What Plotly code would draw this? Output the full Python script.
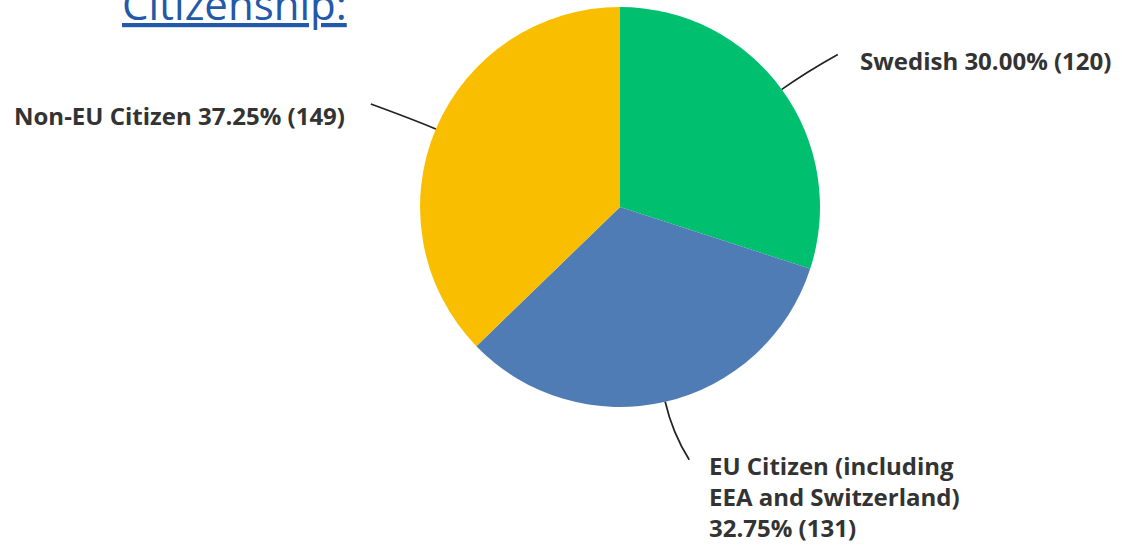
import math
import plotly.graph_objects as go

# Survey answers for the citizenship question
categories = ["Swedish", "EU Citizen (including EEA and Switzerland)", "Non-EU Citizen"]
counts = [120, 131, 149]
label_lines = [
    ["Swedish {pct} ({n})"],
    ["EU Citizen (including", "EEA and Switzerland)", "{pct} ({n})"],
    ["Non-EU Citizen {pct} ({n})"],
]
colors = ["#00BF6F", "#507CB6", "#F9BE00"]

W, H = 1122, 545
CX, CY, R = 620, 207, 200          # pie centre and radius in pixels
TEXT_COLOR = "#333333"

total = sum(counts)
fig = go.Figure()

fig.add_trace(go.Pie(
    labels=categories,
    values=counts,
    sort=False,
    direction="clockwise",
    rotation=0,
    marker=dict(colors=colors, line=dict(width=0)),
    textinfo="none",
    hoverinfo="label+value+percent",
    showlegend=False,
    domain=dict(x=[(CX - R) / W, (CX + R) / W], y=[(H - CY - R) / H, (H - CY + R) / H]),
))

# invisible pixel-space axes for leader lines and labels
fig.add_trace(go.Scatter(x=[0, W], y=[0, H], mode="markers",
                         marker=dict(opacity=0), hoverinfo="skip", showlegend=False))

# leader line end offset, control length, and label anchor per slice
leader = [
    dict(end=(56, -35), ctrl=28, anchor=("left", 20, 6)),
    dict(end=(24, 58), ctrl=32, anchor=("left", 18, -13)),
    dict(end=(-65, -25), ctrl=25, anchor=("right", -24, 11)),
]

cum = 0.0
for i, n in enumerate(counts):
    frac = n / total
    mid = (cum + frac / 2) * 2 * math.pi
    cum += frac
    ux, uy = math.sin(mid), -math.cos(mid)
    sx, sy = CX + R * ux, CY + R * uy
    ex, ey = sx + leader[i]["end"][0], sy + leader[i]["end"][1]
    qx, qy = sx + leader[i]["ctrl"] * ux, sy + leader[i]["ctrl"] * uy
    fig.add_shape(type="path", xref="x", yref="y",
                  path=f"M {sx:.1f},{sy:.1f} Q {qx:.1f},{qy:.1f} {ex:.1f},{ey:.1f}",
                  line=dict(color="#222222", width=1.7))
    pct = f"{frac * 100:.2f}%"
    text = "<br>".join(line.format(pct=pct, n=n) for line in label_lines[i])
    side, dx, dy = leader[i]["anchor"]
    fig.add_annotation(
        x=ex + dx, y=ey + dy, xref="x", yref="y",
        text=text, showarrow=False,
        xanchor=side, yanchor="top" if len(label_lines[i]) > 1 else "middle",
        align="left",
        font=dict(family="Open Sans", size=24, color=TEXT_COLOR, weight=700),
    )

fig.add_annotation(
    x=120, y=34, xref="x", yref="y",
    text="<u>Citizenship:</u>", showarrow=False,
    xanchor="left", yanchor="bottom",
    font=dict(family="Open Sans", size=42, color="#2458A8"),
)

fig.update_xaxes(range=[0, W], visible=False, fixedrange=True)
fig.update_yaxes(range=[H, 0], visible=False, fixedrange=True)
fig.update_layout(
    width=W, height=H,
    margin=dict(l=0, r=0, t=0, b=0),
    paper_bgcolor="white", plot_bgcolor="white",
)

fig.write_html("out.html")
